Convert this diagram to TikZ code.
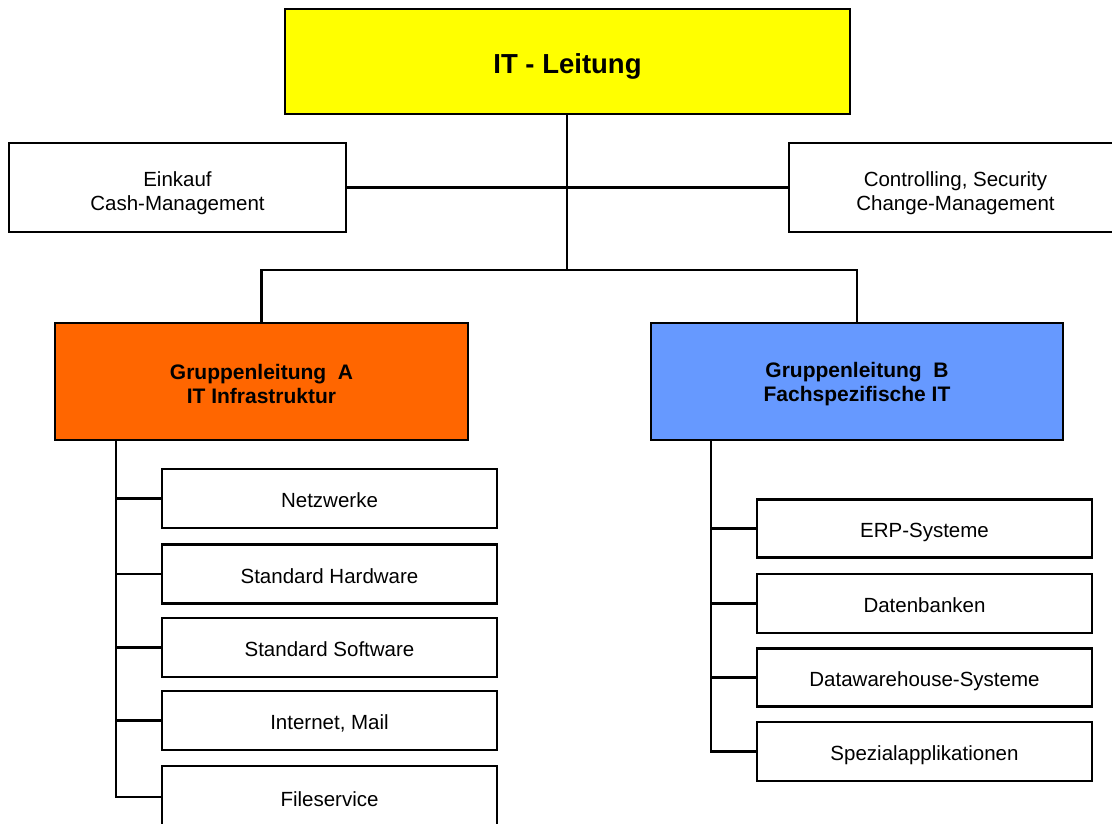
\documentclass[tikz,border=0pt]{standalone}
\usepackage{fontspec}
\setmainfont{Liberation Sans}
\definecolor{topyellow}{HTML}{FFFF00}
\definecolor{grporange}{HTML}{FF6600}
\definecolor{grpblue}{HTML}{6699FF}
\newcommand{\lowerby}[1]{\rule{0pt}{#1}}
\begin{document}
\begin{tikzpicture}[x=1pt,y=-1pt,
  box/.style={draw=black,line width=2.4pt,rectangle,inner sep=0pt,align=center,
    font=\fontsize{20.5}{23.5}\selectfont},
  child/.style={box,minimum width=335pt,minimum height=59pt,text height=23.7pt,text depth=5pt},
  grp/.style={box,minimum width=413pt,minimum height=117pt,font=\bfseries\fontsize{21}{24}\selectfont},
  conn/.style={line width=2.4pt,line cap=rect}]
\useasboundingbox (0,0) rectangle (1112,823);
\fill[white] (0,0) rectangle (1112,823);

\node[box,fill=topyellow,minimum width=565pt,minimum height=105pt,
  text height=30.7pt,text depth=6pt,
  font=\bfseries\fontsize{27.5}{30}\selectfont] (top) at (567.5,61.5) {IT - Leitung};

\node[box,minimum width=337pt,minimum height=89pt] (ein) at (177.5,187.5) {\lowerby{26pt}Einkauf\\Cash-Management};
\node[box,minimum width=333pt,minimum height=89pt] (ctrl) at (955.5,187.5) {\lowerby{26pt}Controlling, Security\\Change-Management};

\node[grp,fill=grporange] (ga) at (261.5,381.5) {\lowerby{20.5pt}Gruppenleitung~~A\\IT Infrastruktur};
\node[grp,fill=grpblue,minimum width=412pt] (gb) at (857,381.5) {\lowerby{20.5pt}Gruppenleitung~~B\\Fachspezifische IT};

\node[child] (a1) at (329.5,498.5) {Netzwerke};
\node[child] (a2) at (329.5,574) {Standard Hardware};
\node[child] (a3) at (329.5,647.5) {Standard Software};
\node[child] (a4) at (329.5,720.5) {Internet, Mail};
\node[child,minimum height=62pt] (a5) at (329.5,797) {Fileservice};

\node[child,minimum height=58pt] (b1) at (924.5,528.5) {ERP-Systeme};
\node[child] (b2) at (924.5,603.5) {Datenbanken};
\node[child,minimum height=58pt] (b3) at (924.5,677.5) {Datawarehouse-Systeme};
\node[child] (b4) at (924.5,751.5) {Spezialapplikationen};

\coordinate (j2) at (567,270);
\coordinate (sa) at (116,440);
\coordinate (sb) at (711,440);

\draw[conn] (ein.east) -- (ctrl.west);
\draw[conn] (top.south -| j2) -- (j2);
\draw[conn] (ga.north) |- (j2) -| (gb.north);

\draw[conn] (sa) |- (a5.west);
\foreach \n in {a1,a2,a3,a4} \draw[conn] (\n.west) -- (\n.west -| sa);
\draw[conn] (sb) |- (b4.west);
\foreach \n in {b1,b2,b3} \draw[conn] (\n.west) -- (\n.west -| sb);
\end{tikzpicture}
\end{document}
